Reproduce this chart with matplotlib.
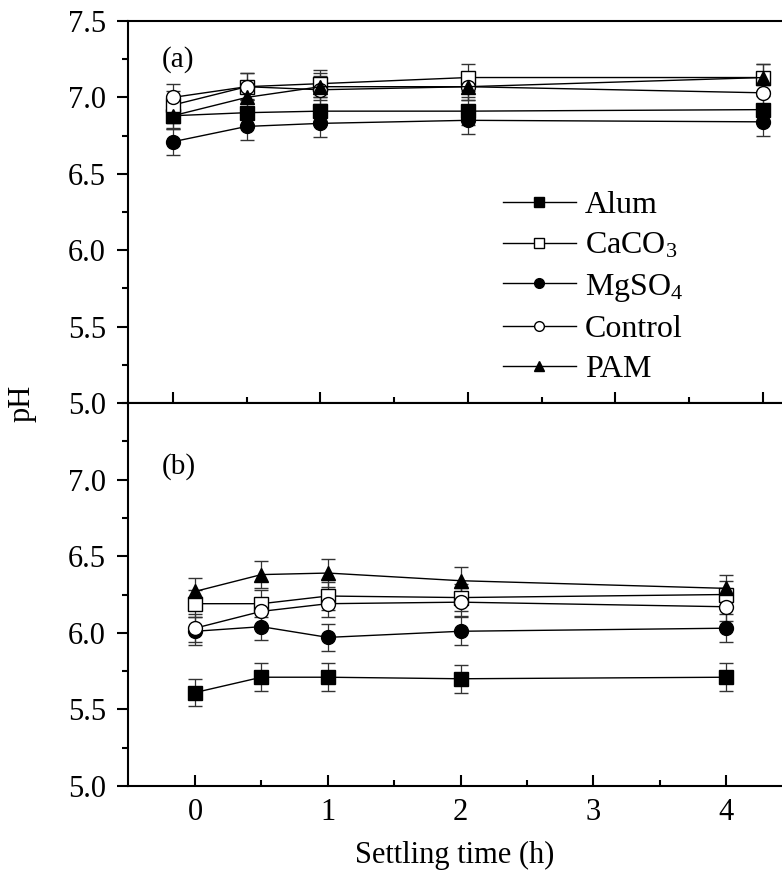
import numpy as np
import matplotlib
matplotlib.use("Agg")
from matplotlib import pyplot as plt
from matplotlib.ticker import MultipleLocator, FixedLocator
from matplotlib.lines import Line2D

plt.rcParams['font.family'] = ['Liberation Serif', 'DejaVu Serif']
plt.rcParams['mathtext.fontset'] = 'custom'
plt.rcParams['mathtext.rm'] = 'Liberation Serif'
plt.rcParams['mathtext.it'] = 'Liberation Serif'

# settling time (h)
time = [0, 0.5, 1, 2, 4]
names = ['Alum', 'CaCO$_3$', 'MgSO$_4$', 'Control', 'PAM']

# (a) pH values
a_alum = [6.88, 6.90, 6.91, 6.91, 6.92]
a_caco3 = [6.95, 7.07, 7.09, 7.13, 7.13]
a_mgso4 = [6.71, 6.81, 6.83, 6.85, 6.84]
a_control = [7.00, 7.07, 7.05, 7.07, 7.03]
a_pam = [6.88, 7.00, 7.07, 7.07, 7.13]
a_err = [0.09, 0.09, 0.09, 0.09, 0.09]

# (b) pH values
b_alum = [5.61, 5.71, 5.71, 5.70, 5.71]
b_caco3 = [6.19, 6.19, 6.24, 6.23, 6.25]
b_mgso4 = [6.01, 6.04, 5.97, 6.01, 6.03]
b_control = [6.03, 6.14, 6.19, 6.20, 6.17]
b_pam = [6.27, 6.38, 6.39, 6.34, 6.29]
b_err = [0.09, 0.09, 0.09, 0.09, 0.09]

styles = [('s', 'k'), ('s', 'w'), ('o', 'k'), ('o', 'w'), ('^', 'k')]

fig = plt.figure(figsize=(7.82, 8.71), dpi=100)
ax1 = fig.add_axes([0.1637, 0.5373, 0.8363, 0.4386])
ax2 = fig.add_axes([0.1637, 0.0976, 0.8363, 0.4397])


def draw(ax, series, err):
    for (m, fc), y, lab in zip(styles, series, names):
        ax.errorbar(time, y, yerr=err, color='k', lw=1, marker=m, ms=10,
                    mfc=fc, mec='k', mew=1, ecolor='#333333', elinewidth=0.9,
                    capsize=5, capthick=0.9, label=lab)
    for s in ['left', 'bottom', 'top']:
        ax.spines[s].set_linewidth(1.5)
    ax.spines['right'].set_visible(False)
    ax.xaxis.set_major_locator(MultipleLocator(1))
    ax.xaxis.set_minor_locator(FixedLocator([0.5, 1.5, 2.5, 3.5]))
    ax.yaxis.set_major_locator(MultipleLocator(0.5))
    ax.yaxis.set_minor_locator(MultipleLocator(0.25))
    ax.tick_params(axis='x', which='major', direction='in', length=8, width=1.5,
                   labelsize=22, pad=9, top=False)
    ax.tick_params(axis='x', which='minor', direction='in', length=4, width=1.5, top=False)
    ax.tick_params(axis='y', which='major', direction='out', length=8, width=1.5,
                   labelsize=22, pad=8, right=False)
    ax.tick_params(axis='y', which='minor', direction='out', length=4, width=1.5, right=False)
    ax.set_ylim(5.0, 7.5)


draw(ax1, [a_alum, a_caco3, a_mgso4, a_control, a_pam], a_err)
ax1.set_xlim(-0.305, 4.13)
ax1.tick_params(axis='x', labelbottom=False)
ax1.text(0.052, 0.9, '(a)', transform=ax1.transAxes, fontsize=21, va='center')

handles = [Line2D([], [], color='k', lw=1, marker=m, ms=7, mfc=fc, mec='k', mew=1)
           for m, fc in styles]
ax1.legend(handles, names, loc='upper left', bbox_to_anchor=(0.573, 0.555), frameon=False,
           fontsize=23, handlelength=2.3, handletextpad=0.28, labelspacing=0.34,
           borderpad=0, borderaxespad=0)

draw(ax2, [b_alum, b_caco3, b_mgso4, b_control, b_pam], b_err)
ax2.set_xlim(-0.505, 4.42)
ax2.set_yticks([5.0, 5.5, 6.0, 6.5, 7.0])
ax2.set_xticks([0, 1, 2, 3, 4])
ax2.set_xticklabels(['0', '1', '2', '3', '4'])
ax2.set_xlabel('Settling time (h)', fontsize=22, labelpad=10)
ax2.text(0.052, 0.833, '(b)', transform=ax2.transAxes, fontsize=21, va='center')

fig.text(0.028, 1 - 403 / 871, 'pH', rotation=90, fontsize=22, va='center', ha='center')

fig.savefig('out.png', dpi=100)
